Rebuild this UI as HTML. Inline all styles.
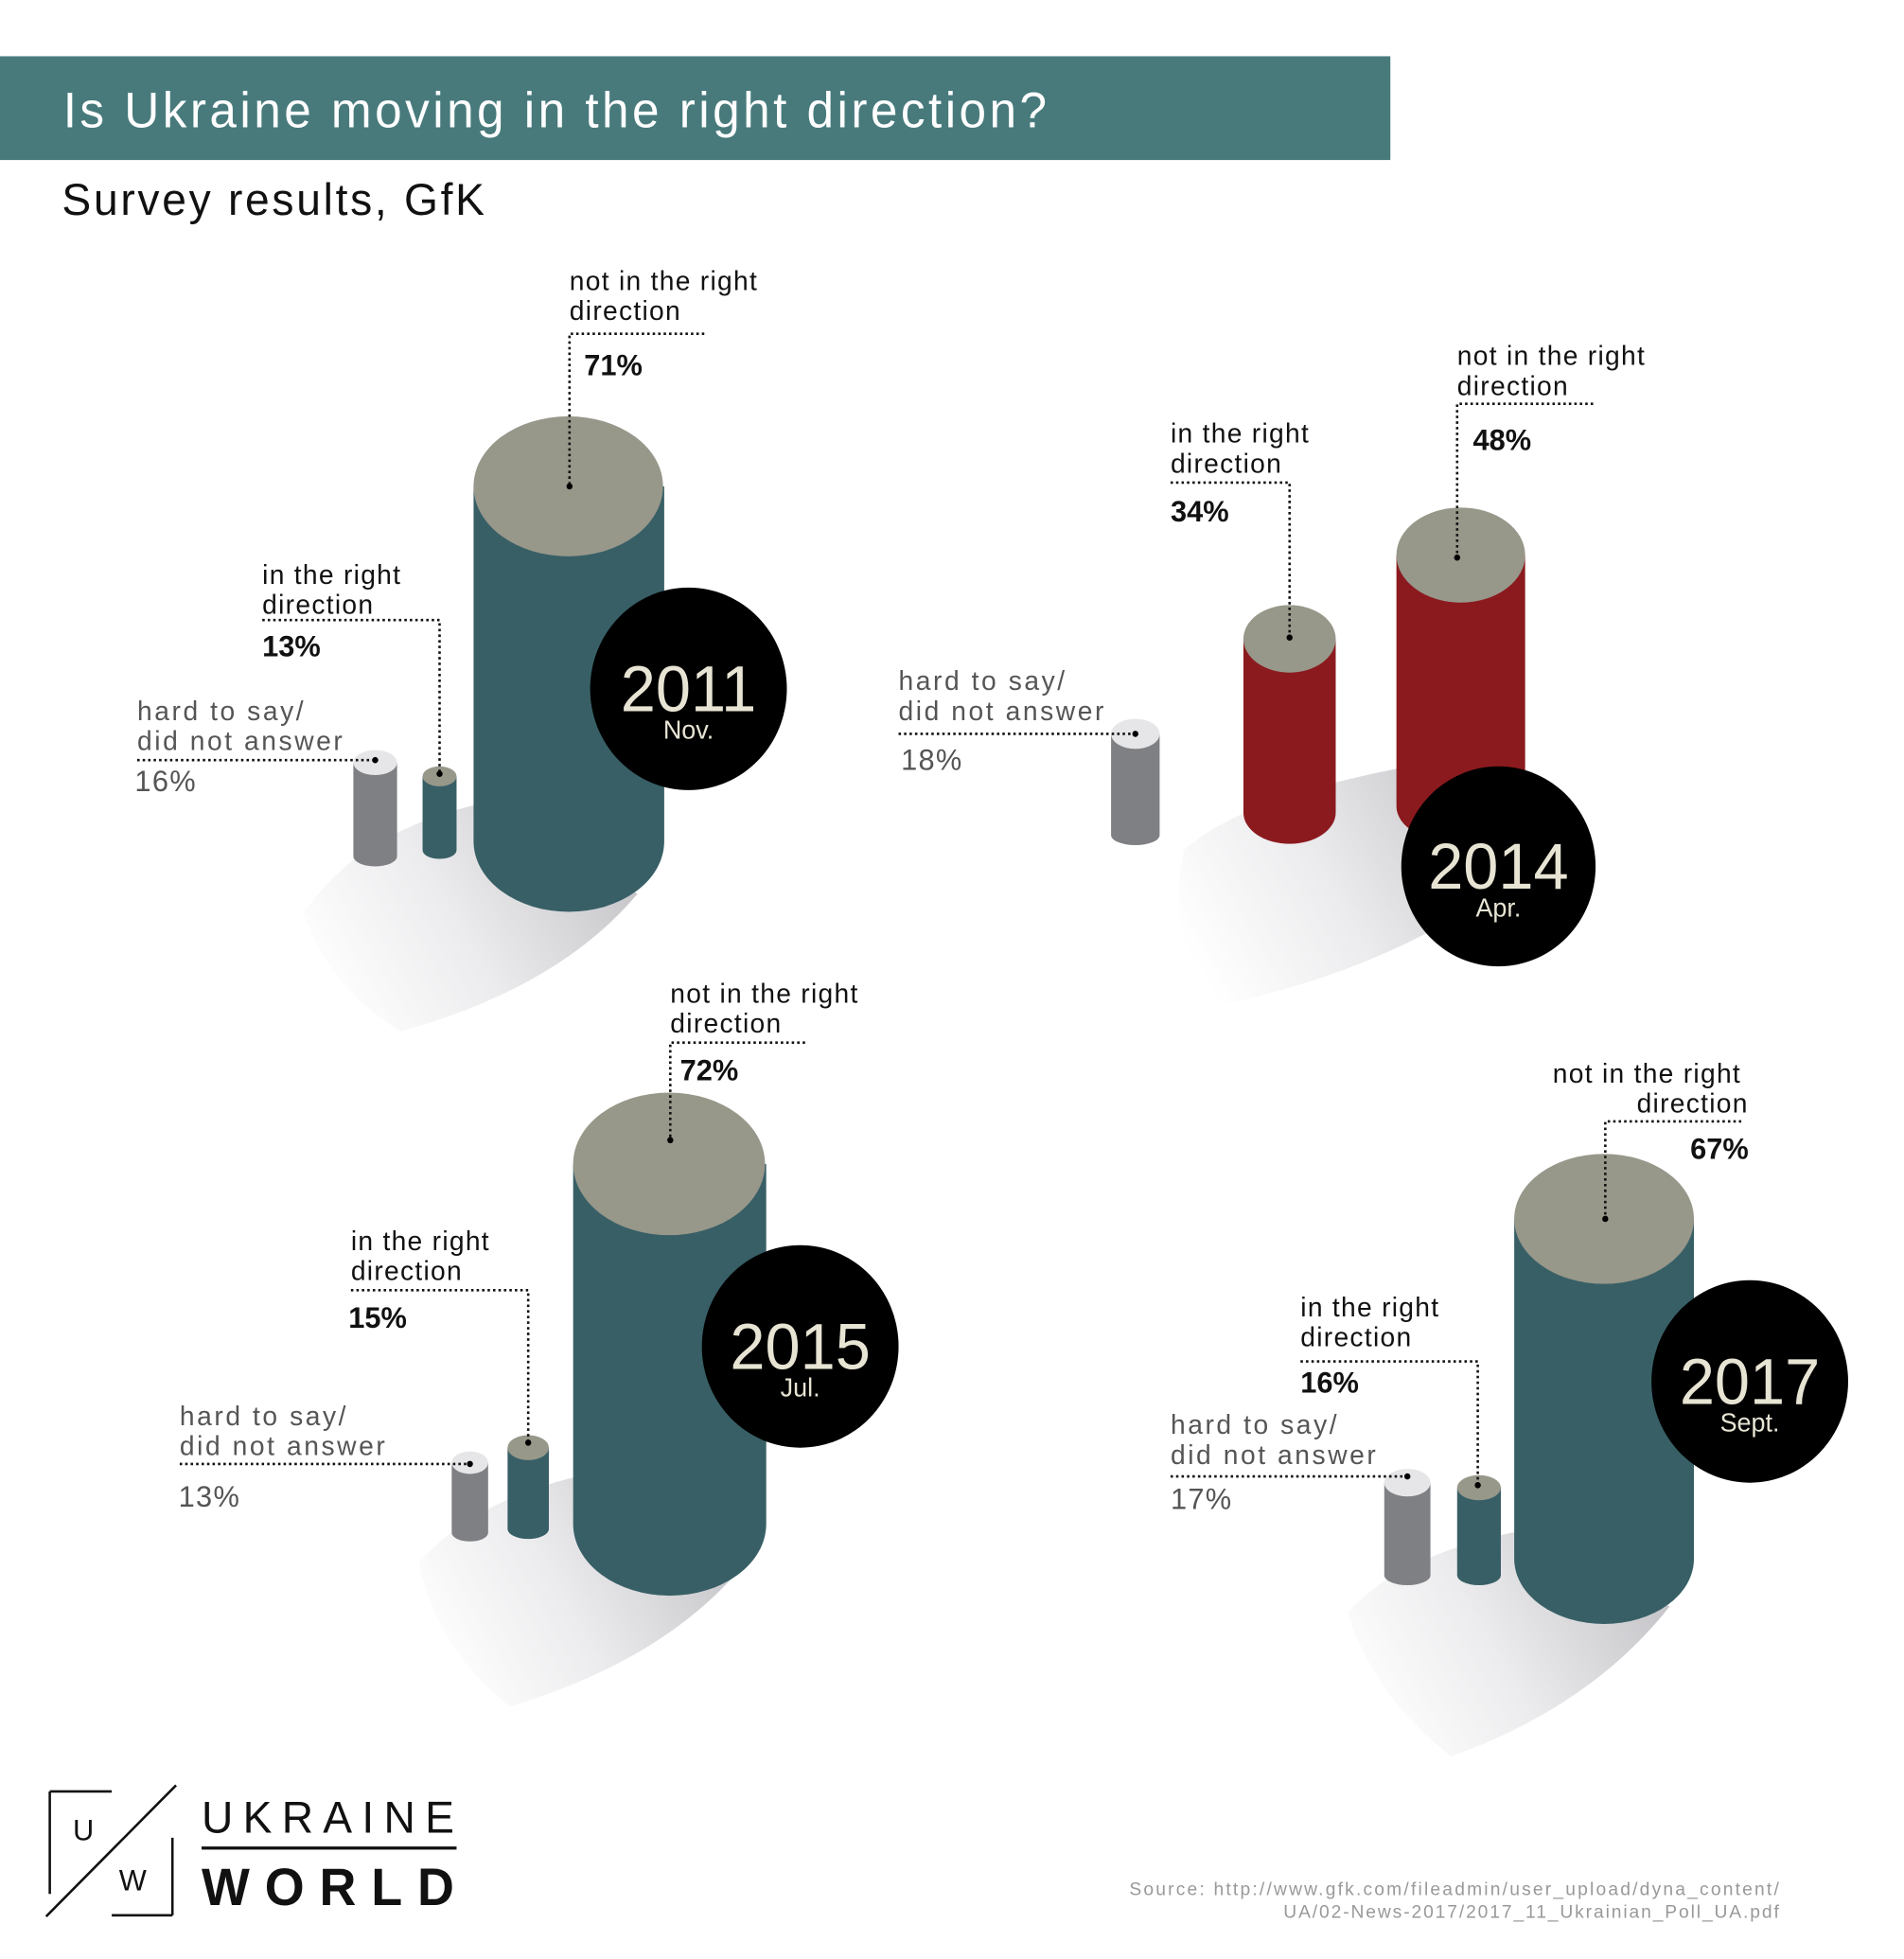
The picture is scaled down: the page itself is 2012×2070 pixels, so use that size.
<!DOCTYPE html>
<html><head><meta charset="utf-8"><style>
html,body{margin:0;padding:0;background:#fff;}
svg{display:block;}
text{font-family:"Liberation Sans",sans-serif;}
.b{font-size:22px;fill:#111;letter-spacing:1px;}
.p{font-size:24px;font-weight:bold;fill:#111;}
.l{font-size:22px;fill:#555;letter-spacing:2px;}
.lp{font-size:24px;fill:#555;letter-spacing:1px;}
.d{stroke:#111;stroke-width:2;stroke-dasharray:2 2.5;fill:none;}
.yr{font-size:52px;fill:#e8e4d4;text-anchor:middle;}
.mo{font-size:21px;fill:#e8e4d4;text-anchor:middle;}
</style></head><body>
<svg width="2012" height="2070" viewBox="0 0 1568 1567" preserveAspectRatio="none" xmlns="http://www.w3.org/2000/svg">
<defs>
<linearGradient id="sh" x1="1" y1="0.3" x2="0" y2="0.7">
<stop offset="0" stop-color="#c4c4c8"/><stop offset="0.55" stop-color="#ececee"/><stop offset="1" stop-color="#fff"/>
</linearGradient>
</defs>
<rect x="0" y="45" width="1145" height="83" fill="#487a7c"/>
<text x="52" y="102" font-size="40" fill="#fff" textLength="810" lengthAdjust="spacing">Is Ukraine moving in the right direction?</text>
<text x="51" y="172" font-size="36" fill="#111" textLength="348" lengthAdjust="spacing">Survey results, GfK</text>

<!-- 2011 -->
<path d="M250 730 Q300 660 410 640 L525 715 Q460 790 330 825 Q270 790 250 730Z" fill="url(#sh)"/>
<path d="M291 610 V685 A18 8 0 0 0 327 685 V610Z" fill="#7f8084"/>
<ellipse cx="309" cy="610" rx="18" ry="10" fill="#e6e6e8"/>
<path d="M348 621 V680 A14 7 0 0 0 376 680 V621Z" fill="#385f66"/>
<ellipse cx="362" cy="621" rx="14" ry="8" fill="#97978a"/>
<path d="M390 389 V673 A78 56 0 0 0 547 673 V389Z" fill="#385f66"/>
<ellipse cx="468" cy="389" rx="78" ry="56" fill="#97978a"/>
<circle cx="567" cy="551" r="81" fill="#000"/>
<text x="567" y="569" class="yr">2011</text><text x="567" y="591" class="mo">Nov.</text>
<text x="469" y="232" class="b">not in the right</text><text x="469" y="256" class="b">direction</text>
<path d="M580 267 H469 V389" class="d"/><circle cx="469" cy="389" r="2.5"/>
<text x="481" y="300" class="p">71%</text>
<text x="216" y="467" class="b">in the right</text><text x="216" y="491" class="b">direction</text>
<path d="M216 496 H362 V619" class="d"/><circle cx="362" cy="619" r="2.5"/>
<text x="216" y="525" class="p">13%</text>
<text x="113" y="576" class="l">hard to say/</text><text x="113" y="600" class="l">did not answer</text>
<path d="M113 608 H309" class="d"/><circle cx="309" cy="608" r="2.5"/>
<text x="111" y="633" class="lp">16%</text>

<!-- 2014 -->
<path d="M975 680 Q1020 640 1150 615 L1250 700 Q1150 775 1000 805 Q960 750 975 680Z" fill="url(#sh)"/>
<path d="M915 587 V668 A20 8 0 0 0 955 668 V587Z" fill="#7f8084"/>
<ellipse cx="935" cy="587" rx="20" ry="12" fill="#e6e6e8"/>
<path d="M1024 511 V650 A38 25 0 0 0 1100 650 V511Z" fill="#8b1a1e"/>
<ellipse cx="1062" cy="511" rx="38" ry="27" fill="#97978a"/>
<path d="M1150 444 V645 A53 30 0 0 0 1256 645 V444Z" fill="#8b1a1e"/>
<ellipse cx="1203" cy="444" rx="53" ry="38" fill="#97978a"/>
<circle cx="1234" cy="693" r="80" fill="#000"/>
<text x="1234" y="711" class="yr">2014</text><text x="1234" y="733" class="mo">Apr.</text>
<text x="1200" y="292" class="b">not in the right</text><text x="1200" y="316" class="b">direction</text>
<path d="M1312 323 H1200 V446" class="d"/><circle cx="1200" cy="446" r="2.5"/>
<text x="1213" y="360" class="p">48%</text>
<text x="964" y="354" class="b">in the right</text><text x="964" y="378" class="b">direction</text>
<path d="M964 386 H1062 V510" class="d"/><circle cx="1062" cy="510" r="2.5"/>
<text x="964" y="417" class="p">34%</text>
<text x="740" y="552" class="l">hard to say/</text><text x="740" y="576" class="l">did not answer</text>
<path d="M740 587 H935" class="d"/><circle cx="935" cy="587" r="2.5"/>
<text x="742" y="616" class="lp">18%</text>

<!-- 2015 -->
<path d="M345 1250 Q390 1200 480 1180 L605 1260 Q540 1330 420 1365 Q360 1320 345 1250Z" fill="url(#sh)"/>
<path d="M372 1170 V1226 A15 7 0 0 0 402 1226 V1170Z" fill="#7f8084"/>
<ellipse cx="387" cy="1170" rx="15" ry="9" fill="#e6e6e8"/>
<path d="M418 1158 V1223 A17 8 0 0 0 452 1223 V1158Z" fill="#385f66"/>
<ellipse cx="435" cy="1158" rx="17" ry="10" fill="#97978a"/>
<path d="M472 931 V1219 A79 57 0 0 0 631 1219 V931Z" fill="#385f66"/>
<ellipse cx="551" cy="931" rx="79" ry="57" fill="#97978a"/>
<circle cx="659" cy="1077" r="81" fill="#000"/>
<text x="659" y="1095" class="yr">2015</text><text x="659" y="1117" class="mo">Jul.</text>
<text x="552" y="802" class="b">not in the right</text><text x="552" y="826" class="b">direction</text>
<path d="M663 834 H552 V912" class="d"/><circle cx="552" cy="912" r="2.5"/>
<text x="560" y="864" class="p">72%</text>
<text x="289" y="1000" class="b">in the right</text><text x="289" y="1024" class="b">direction</text>
<path d="M289 1032 H435 V1154" class="d"/><circle cx="435" cy="1154" r="2.5"/>
<text x="287" y="1062" class="p">15%</text>
<text x="148" y="1140" class="l">hard to say/</text><text x="148" y="1164" class="l">did not answer</text>
<path d="M148 1171 H387" class="d"/><circle cx="387" cy="1171" r="2.5"/>
<text x="147" y="1205" class="lp">13%</text>

<!-- 2017 -->
<path d="M1110 1290 Q1150 1245 1250 1225 L1375 1285 Q1310 1365 1195 1405 Q1130 1355 1110 1290Z" fill="url(#sh)"/>
<path d="M1140 1186 V1260 A19 8 0 0 0 1178 1260 V1186Z" fill="#7f8084"/>
<ellipse cx="1159" cy="1186" rx="19" ry="11" fill="#e6e6e8"/>
<path d="M1200 1190 V1260 A18 8 0 0 0 1236 1260 V1190Z" fill="#385f66"/>
<ellipse cx="1218" cy="1190" rx="18" ry="10" fill="#97978a"/>
<path d="M1247 975 V1247 A74 52 0 0 0 1395 1247 V975Z" fill="#385f66"/>
<ellipse cx="1321" cy="975" rx="74" ry="52" fill="#97978a"/>
<circle cx="1441" cy="1105" r="81" fill="#000"/>
<text x="1441" y="1123" class="yr">2017</text><text x="1441" y="1145" class="mo">Sept.</text>
<text x="1434" y="866" class="b" text-anchor="end">not in the right</text><text x="1440" y="890" class="b" text-anchor="end">direction</text>
<path d="M1434 897 H1322 V975" class="d"/><circle cx="1322" cy="975" r="2.5"/>
<text x="1440" y="927" class="p" text-anchor="end">67%</text>
<text x="1071" y="1053" class="b">in the right</text><text x="1071" y="1077" class="b">direction</text>
<path d="M1071 1089 H1217 V1188" class="d"/><circle cx="1217" cy="1188" r="2.5"/>
<text x="1071" y="1114" class="p">16%</text>
<text x="964" y="1147" class="l">hard to say/</text><text x="964" y="1171" class="l">did not answer</text>
<path d="M964 1181 H1159" class="d"/><circle cx="1159" cy="1181" r="2.5"/>
<text x="964" y="1207" class="lp">17%</text>

<!-- logo -->
<path d="M41 1433 V1515 M41 1433 H92 M142 1470 V1532 M92 1532 H142" stroke="#111" stroke-width="2" fill="none"/>
<path d="M38 1533 L145 1428" stroke="#111" stroke-width="2"/>
<text x="60" y="1472" font-size="24" fill="#111">U</text>
<text x="98" y="1512" font-size="24" fill="#111">W</text>
<text x="166" y="1466" font-size="36" fill="#111" textLength="208" lengthAdjust="spacing">UKRAINE</text>
<rect x="166" y="1477" width="210" height="2.5" fill="#111"/>
<text x="166" y="1524" font-size="42" font-weight="bold" fill="#111" textLength="208" lengthAdjust="spacing">WORLD</text>
<text x="1465" y="1516" font-size="15" fill="#999" text-anchor="end" textLength="535" lengthAdjust="spacing">Source: http://www.gfk.com/fileadmin/user_upload/dyna_content/</text>
<text x="1465" y="1534" font-size="15" fill="#999" text-anchor="end" textLength="408" lengthAdjust="spacing">UA/02-News-2017/2017_11_Ukrainian_Poll_UA.pdf</text>
</svg>
</body></html>
